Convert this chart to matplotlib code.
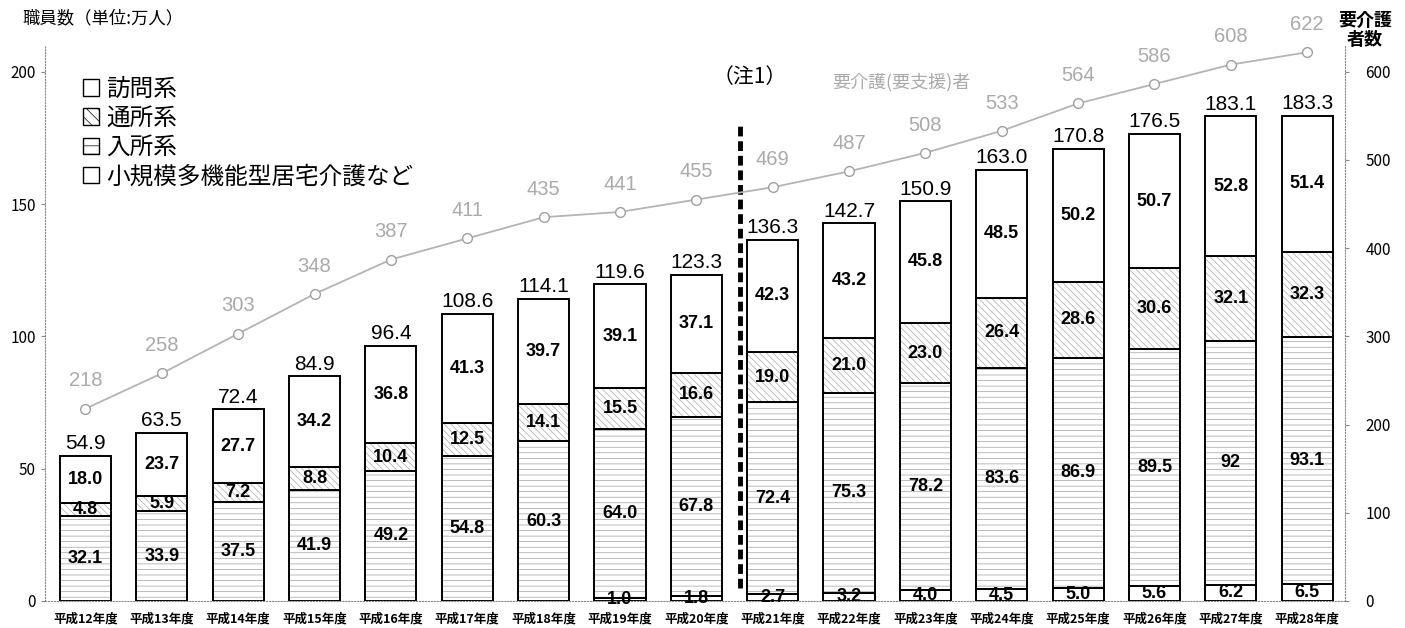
import numpy as np
import matplotlib
matplotlib.use('Agg')
import matplotlib.pyplot as plt
from matplotlib.patches import Patch

plt.rcParams['font.family'] = ['Noto Sans CJK JP', 'DejaVu Sans']
plt.rcParams['hatch.linewidth'] = 0.5

years = ['平成12年度', '平成13年度', '平成14年度', '平成15年度', '平成16年度', '平成17年度',
         '平成18年度', '平成19年度', '平成20年度', '平成21年度', '平成22年度', '平成23年度',
         '平成24年度', '平成25年度', '平成26年度', '平成27年度', '平成28年度']

# 職員数 (万人)
shokibo = [0, 0, 0, 0, 0, 0, 0, 1.0, 1.8, 2.7, 3.2, 4.0, 4.5, 5.0, 5.6, 6.2, 6.5]
nyusho = [32.1, 33.9, 37.5, 41.9, 49.2, 54.8, 60.3, 64.0, 67.8, 72.4, 75.3, 78.2, 83.6, 86.9, 89.5, 92, 93.1]
tsusho = [4.8, 5.9, 7.2, 8.8, 10.4, 12.5, 14.1, 15.5, 16.6, 19.0, 21.0, 23.0, 26.4, 28.6, 30.6, 32.1, 32.3]
homon = [18.0, 23.7, 27.7, 34.2, 36.8, 41.3, 39.7, 39.1, 37.1, 42.3, 43.2, 45.8, 48.5, 50.2, 50.7, 52.8, 51.4]
totals = [54.9, 63.5, 72.4, 84.9, 96.4, 108.6, 114.1, 119.6, 123.3, 136.3, 142.7, 150.9, 163.0, 170.8, 176.5, 183.1, 183.3]
seg_labels = {
    'shokibo': ['', '', '', '', '', '', '', '1.0', '1.8', '2.7', '3.2', '4.0', '4.5', '5.0', '5.6', '6.2', '6.5'],
    'nyusho': ['32.1', '33.9', '37.5', '41.9', '49.2', '54.8', '60.3', '64.0', '67.8', '72.4', '75.3', '78.2',
               '83.6', '86.9', '89.5', '92', '93.1'],
    'tsusho': ['4.8', '5.9', '7.2', '8.8', '10.4', '12.5', '14.1', '15.5', '16.6', '19.0', '21.0', '23.0',
               '26.4', '28.6', '30.6', '32.1', '32.3'],
    'homon': ['18.0', '23.7', '27.7', '34.2', '36.8', '41.3', '39.7', '39.1', '37.1', '42.3', '43.2', '45.8',
              '48.5', '50.2', '50.7', '52.8', '51.4'],
}
total_labels = ['54.9', '63.5', '72.4', '84.9', '96.4', '108.6', '114.1', '119.6', '123.3', '136.3',
                '142.7', '150.9', '163.0', '170.8', '176.5', '183.1', '183.3']

# 要介護(要支援)者数 (万人)
yokaigo = [218, 258, 303, 348, 387, 411, 435, 441, 455, 469, 487, 508, 533, 564, 586, 608, 622]

x = np.arange(len(years))
w = 0.67

fig = plt.figure(figsize=(14.05, 6.28), dpi=100)
ax = fig.add_axes([0.032, 0.043, 0.925, 0.885])

series = [('shokibo', shokibo, '', '#999999'), ('nyusho', nyusho, '---', '#a0a0a0'),
          ('tsusho', tsusho, '\\\\\\\\\\', '#a8a8a8'), ('homon', homon, '', '#999999')]
bottom = np.zeros(len(x))
for key, vals, hatch, hc in series:
    vals = np.array(vals, dtype=float)
    # hatch layer in gray, then black outline
    ax.bar(x, vals, w, bottom=bottom, color='white', edgecolor=hc, hatch=hatch, linewidth=0)
    ax.bar(x, vals, w, bottom=bottom, fill=False, edgecolor='black', linewidth=1.4)
    for xi, b, v, lab in zip(x, bottom, vals, seg_labels[key]):
        if lab:
            ax.text(xi, b + v / 2, lab, ha='center', va='center', fontsize=13, fontweight='bold',
                    family=['Liberation Sans', 'DejaVu Sans'])
    bottom += vals

for xi, t, lab in zip(x, totals, total_labels):
    ax.annotate(lab, (xi, t), xytext=(0, 2), textcoords='offset points', ha='center', va='bottom',
                fontsize=15, family=['Liberation Sans', 'DejaVu Sans'])

ax.set_xlim(-0.53, 16.49)
ax.set_ylim(0, 210)
ax.set_yticks([0, 50, 100, 150, 200])
ax.set_xticks(x)
ax.set_xticklabels(years, fontsize=9, fontweight='bold')
ax.tick_params(axis='x', length=0, pad=8)
ax.tick_params(axis='y', labelsize=11, length=3, color='#888888')
for s in ['left', 'bottom']:
    ax.spines[s].set_linestyle(':')
    ax.spines[s].set_color('#888888')
ax.spines['top'].set_visible(False)
ax.spines['right'].set_visible(False)

# boundary between 平成20年度 and 平成21年度
ax.vlines(8.57, 5, 181, colors='black', linestyles=(0, (2, 1)), linewidth=3.5)

ax2 = ax.twinx()
ax2.set_ylim(0, 630)
ax2.set_yticks([0, 100, 200, 300, 400, 500, 600])
ax2.tick_params(axis='y', labelsize=11, length=3, pad=12, color='#888888')
ax2.spines['right'].set_linestyle(':')
ax2.spines['right'].set_color('#888888')
for s in ['left', 'top', 'bottom']:
    ax2.spines[s].set_visible(False)
ax2.plot(x, yokaigo, color='#b4b4b4', linewidth=1.3, marker='o', markersize=7,
         markerfacecolor='white', markeredgecolor='#a0a0a0', zorder=5)
for xi, v in zip(x, yokaigo):
    ax2.annotate(str(v), (xi, v), xytext=(0, 20), textcoords='offset points', ha='center', va='center',
                 fontsize=14.5, color='#aaaaaa', family=['Liberation Sans', 'DejaVu Sans'])

handles = [Patch(facecolor='white', edgecolor='black', label='訪問系'),
           Patch(facecolor='white', edgecolor='black', hatch='\\\\\\', label='通所系'),
           Patch(facecolor='white', edgecolor='black', hatch='--', label='入所系'),
           Patch(facecolor='white', edgecolor='black', label='小規模多機能型居宅介護など')]
fig.legend(handles=handles, loc='upper left', bbox_to_anchor=(0.059, 0.876), frameon=False,
           fontsize=17, handlelength=0.7, handleheight=0.7, handletextpad=0.3, labelspacing=0.26,
           borderpad=0, borderaxespad=0)

fig.text(0.016, 0.971, '職員数（単位:万人）', fontsize=12.5, va='center', ha='left')
fig.text(0.9715, 0.952, '要介護\n者数', fontsize=13, fontweight='bold', va='center', ha='center',
         linespacing=1.0)
fig.text(0.507, 0.877, '（注1）', fontsize=15, va='center', ha='left')
fig.text(0.592, 0.869, '要介護(要支援)者', fontsize=13, color='#aaaaaa', va='center', ha='left')

fig.savefig('out.png', dpi=100)
